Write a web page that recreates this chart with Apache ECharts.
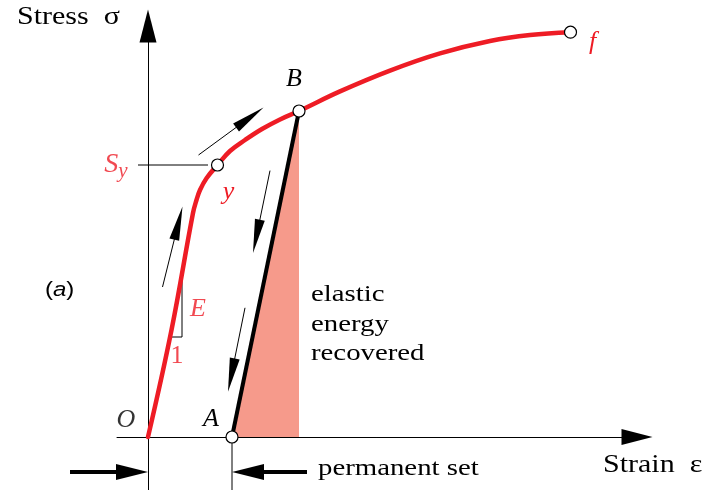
<!DOCTYPE html>
<html>
<head>
<meta charset="utf-8">
<script src="https://cdn.jsdelivr.net/npm/echarts@6/dist/echarts.min.js"></script>
<style>
  html, body { margin: 0; padding: 0; background: #fff; }
  #chart { width: 715px; height: 490px; }
</style>
</head>
<body>
<div id="chart"></div>
<script>
// Stress–strain curve of a ductile metal: loading O → y → B → f,
// elastic unloading B → A, leaving a permanent set OA.

// Loading curve (strain, stress) in arbitrary units
const curveStrain = [0, 4.7, 9.0, 9.7, 10.4, 11.7, 13.9, 16.4, 19.4, 22.8, 26.4, 30.2, 38.4, 48.4, 58.4, 68.4, 76.4, 84.5];
const curveStress = [0, 26.75, 56.0, 59.25, 61.75, 64.7, 68.0, 71.5, 74.25, 77.0, 79.4, 81.5, 86.4, 91.6, 95.9, 99.0, 100.5, 101.2];

// Marked points: yield, unloading start, fracture, unloaded state
const pointNames = ['y', 'B', 'f', 'A'];
const pointStrain = [13.9, 30.2, 84.5, 16.8];
const pointStress = [68.0, 81.5, 101.2, 0];

// Elastic unloading line A–B (area under it = recovered elastic energy)
const unloadStrain = [16.8, 30.2];
const unloadStress = [0, 81.5];

// Yield strength S_y
const yieldStress = 68.0;

// Slope triangle for modulus E: run 1 (horizontal), rise E (vertical)
const slopeStrain = [4.0, 6.8, 6.8];
const slopeStress = [25.0, 25.0, 40.0];

// Direction arrows along the path [tailStrain, tailStress, tipStrain, tipStress]
const flowArrows = [
  [2.9, 37.5, 6.9, 57.6],
  [10.1, 70.5, 23.1, 82.4],
  [24.4, 66.6, 21.0, 46.0],
  [19.4, 32.3, 16.0, 11.3]
];

// Dimension arrows marking the permanent set O–A
const setLevel = -8.75;
const setArrows = [
  [-15.6, setLevel, 0, setLevel],
  [31.8, setLevel, 16.8, setLevel]
];

const RED = '#ee1c25';
const SERIF = '"Liberation Serif", "Times New Roman", serif';
const SANS = '"Liberation Sans", sans-serif';
const zip = (a, b) => a.map((v, i) => [v, b[i]]);

const chart = echarts.init(document.getElementById('chart'), null, { renderer: 'canvas' });

function arrowSeries(name, data, shaftWidth, headLen, headWidth) {
  return {
    name: name,
    type: 'custom',
    coordinateSystem: 'cartesian2d',
    data: data,
    encode: { x: [0, 2], y: [1, 3] },
    clip: false,
    silent: true,
    z: 6,
    renderItem: function (params, api) {
      const p1 = api.coord([api.value(0), api.value(1)]);
      const p2 = api.coord([api.value(2), api.value(3)]);
      const dx = p2[0] - p1[0], dy = p2[1] - p1[1];
      const len = Math.sqrt(dx * dx + dy * dy);
      const ux = dx / len, uy = dy / len;
      const bx = p2[0] - ux * headLen, by = p2[1] - uy * headLen;
      const nx = -uy * headWidth / 2, ny = ux * headWidth / 2;
      return {
        type: 'group',
        children: [
          {
            type: 'line',
            shape: { x1: p1[0], y1: p1[1], x2: bx + ux * 2, y2: by + uy * 2 },
            style: { stroke: '#000', lineWidth: shaftWidth }
          },
          {
            type: 'polygon',
            shape: { points: [[p2[0], p2[1]], [bx + nx, by + ny], [bx - nx, by - ny]] },
            style: { fill: '#000' }
          }
        ]
      };
    }
  };
}

const pointLabel = {
  y: { color: RED, offset: [11, 27] },
  B: { color: '#000', offset: [-5, -32] },
  f: { color: RED, offset: [22, 10] },
  A: { color: '#000', offset: [-21, -18] }
};

const letterStyle = { fontFamily: SERIF, fontStyle: 'italic', fontSize: 26 };

const option = {
  animation: false,
  backgroundColor: '#fff',
  grid: { left: 117, top: 26, width: 520, height: 464, outerBoundsMode: 'none' },
  xAxis: {
    type: 'value',
    min: -6.2,
    max: 97.8,
    axisLine: {
      show: true,
      onZero: true,
      symbol: ['none', 'triangle'],
      symbolSize: [16, 31],
      lineStyle: { color: '#000', width: 1 }
    },
    axisTick: { show: false },
    axisLabel: { show: false },
    splitLine: { show: false }
  },
  yAxis: {
    type: 'value',
    min: -13.25,
    max: 102.75,
    axisLine: {
      show: true,
      onZero: true,
      symbol: ['none', 'triangle'],
      symbolSize: [17, 33],
      lineStyle: { color: '#000', width: 1 }
    },
    axisTick: { show: false },
    axisLabel: { show: false },
    splitLine: { show: false }
  },
  series: [
    {
      name: 'elastic unloading',
      type: 'line',
      data: zip(unloadStrain, unloadStress),
      symbol: 'none',
      lineStyle: { color: '#000', width: 4 },
      areaStyle: { color: '#f69a8b', opacity: 1, origin: 0 },
      z: 2,
      silent: true
    },
    {
      name: 'guides',
      type: 'lines',
      coordinateSystem: 'cartesian2d',
      polyline: true,
      silent: true,
      z: 3,
      lineStyle: { color: '#000', width: 1, opacity: 1 },
      data: [
        { coords: [[-2.0, yieldStress], [12.0, yieldStress]] },
        { coords: zip(slopeStrain, slopeStress) },
        { coords: [[unloadStrain[0], 0], [unloadStrain[0], -13.25]] }
      ]
    },
    {
      name: 'loading curve',
      type: 'line',
      data: zip(curveStrain, curveStress),
      symbol: 'none',
      smooth: 0.4,
      lineStyle: { color: RED, width: 4.5, cap: 'round' },
      z: 4,
      silent: true
    },
    arrowSeries('flow arrows', flowArrows, 1, 34, 10),
    arrowSeries('permanent set arrows', setArrows, 4, 32, 16),
    {
      name: 'points',
      type: 'scatter',
      symbol: 'circle',
      symbolSize: 12,
      z: 8,
      silent: true,
      itemStyle: { color: '#fff', borderColor: '#000', borderWidth: 1.2, opacity: 1 },
      data: pointNames.map((n, i) => ({
        name: n,
        value: [pointStrain[i], pointStress[i]],
        label: {
          show: true,
          position: 'inside',
          formatter: n,
          color: pointLabel[n].color,
          offset: pointLabel[n].offset,
          ...letterStyle
        }
      }))
    },
    {
      name: 'annotations',
      type: 'scatter',
      symbol: 'circle',
      symbolSize: 1,
      z: 8,
      silent: true,
      itemStyle: { color: 'rgba(0,0,0,0)' },
      data: [
        {
          value: [0, 0],
          label: { show: true, position: 'inside', formatter: 'O', color: '#000', offset: [-22, -17], ...letterStyle }
        },
        {
          value: [0, yieldStress],
          label: {
            show: true,
            position: 'left',
            distance: 20,
            formatter: '{s|S}{sub|y}',
            rich: {
              s: { fontFamily: SERIF, fontStyle: 'italic', fontSize: 28, color: RED, verticalAlign: 'top', lineHeight: 28 },
              sub: { fontFamily: SERIF, fontStyle: 'italic', fontSize: 21, color: RED, verticalAlign: 'top', lineHeight: 21, padding: [10, 0, 0, 0] }
            }
          }
        },
        {
          value: [slopeStrain[1], (slopeStress[1] + slopeStress[2]) / 2],
          label: { show: true, position: 'inside', formatter: 'E', color: RED, offset: [16, 2], ...letterStyle }
        },
        {
          value: [(slopeStrain[0] + slopeStrain[1]) / 2, slopeStress[0]],
          label: { show: true, position: 'inside', formatter: '1', color: RED, offset: [2, 19], fontFamily: SERIF, fontSize: 26 }
        }
      ]
    }
  ],
  graphic: [
    {
      type: 'text', x: 17, y: 17, scaleX: 1.2, silent: true,
      style: { text: 'Stress  σ', fontFamily: SERIF, fontSize: 25, fill: '#000', align: 'left', verticalAlign: 'middle' }
    },
    {
      type: 'text', x: 603, y: 465.5, scaleX: 1.2, silent: true,
      style: { text: 'Strain  ε', fontFamily: SERIF, fontSize: 25, fill: '#000', align: 'left', verticalAlign: 'middle' }
    },
    {
      type: 'text', x: 311, y: 280, scaleX: 1.2, silent: true,
      style: { text: 'elastic\nenergy\nrecovered', fontFamily: SERIF, fontSize: 24, lineHeight: 29.5, fill: '#000', align: 'left', verticalAlign: 'top' }
    },
    {
      type: 'text', x: 318, y: 468.7, scaleX: 1.2, silent: true,
      style: { text: 'permanent set', fontFamily: SERIF, fontSize: 24, fill: '#000', align: 'left', verticalAlign: 'middle' }
    },
    {
      type: 'text', x: 45, y: 290, scaleX: 1.2, silent: true,
      style: {
        text: '{n|(}{i|a}{n|)}',
        align: 'left',
        verticalAlign: 'middle',
        rich: {
          n: { fontFamily: SANS, fontSize: 20, fill: '#000' },
          i: { fontFamily: SANS, fontSize: 20, fontStyle: 'italic', fill: '#000' }
        }
      }
    }
  ]
};

chart.setOption(option);
</script>
</body>
</html>
